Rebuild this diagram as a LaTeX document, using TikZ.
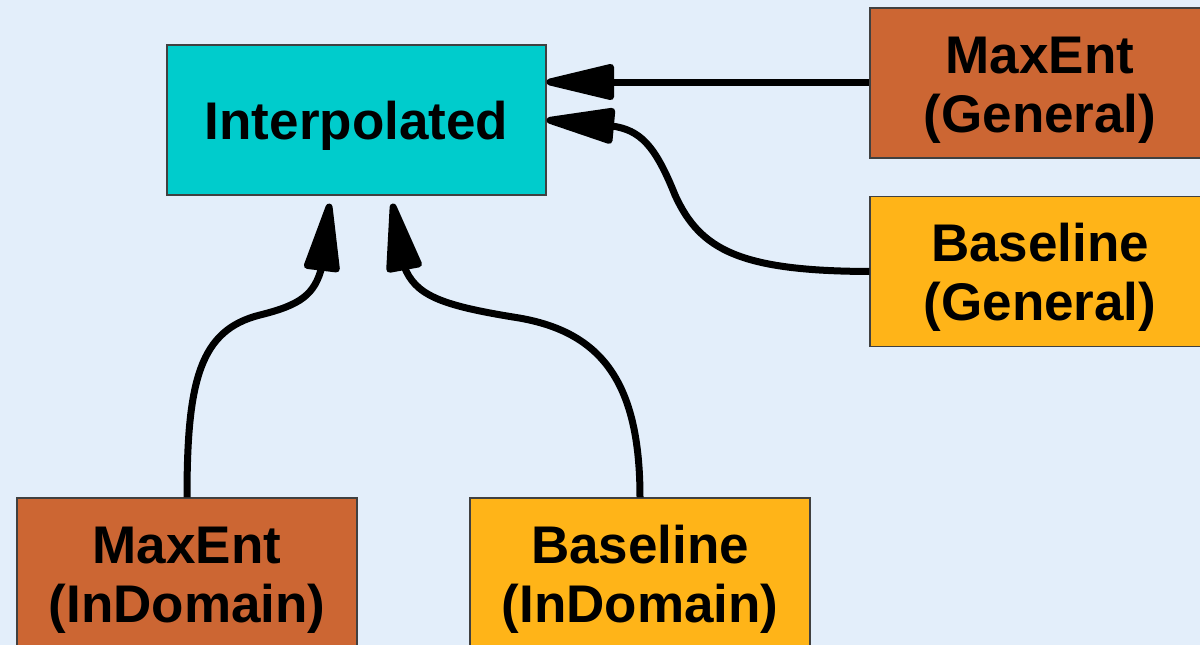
\documentclass[tikz,border=0pt]{standalone}
\usepackage{fontspec}
\setmainfont{Liberation Sans}
\usetikzlibrary{arrows.meta}
\definecolor{bgblue}{RGB}{227,238,250}
\definecolor{interpcyan}{RGB}{0,204,204}
\definecolor{maxentbrown}{RGB}{204,102,51}
\definecolor{baseamber}{RGB}{255,180,24}
\begin{document}
\begin{tikzpicture}[x=1pt,y=-1pt,
  box/.style={draw=black!75,line width=1.2pt,minimum width=340pt,minimum height=150pt,
    inner sep=0pt,align=center,font=\fontsize{53}{59}\selectfont\bfseries},
  onebox/.style={box,text height=50pt},
  twobox/.style={box,text height=109.5pt},
  link/.style={line width=7pt,-{Triangle[length=80pt,width=36pt,round]}}]
  \useasboundingbox (0,0) rectangle (1200,645);
  \clip (0,0) rectangle (1200,645);
  \fill[bgblue] (0,0) rectangle (1200,645);

  % models
  \node[onebox,fill=interpcyan,minimum width=379pt] (interp) at (356.5,120) {Interpolated};
  \node[twobox,fill=maxentbrown] (mg) at (1040,83) {MaxEnt\\(General)};
  \node[twobox,fill=baseamber] (bg) at (1040,271.5) {Baseline\\(General)};
  \node[twobox,fill=maxentbrown] (mi) at (187,573) {MaxEnt\\(InDomain)};
  \node[twobox,fill=baseamber] (bi) at (640,573) {Baseline\\(InDomain)};

  % connectors into the interpolated model
  \draw[link] ([yshift=1pt]mg.west) -- ([yshift=38pt]interp.east);
  \draw[link] (bg.west) .. controls (740,271) and (700,250) .. (675,195)
    .. controls (655,145) and (640,130) .. (612,126) -- (interp.east);
  \draw[link] (mi.north) .. controls (187,380) and (200,330) .. (260,315)
    .. controls (300,305) and (315,295) .. (322,266) -- ([xshift=-27pt,yshift=-8pt]interp.south);
  \draw[link] (bi.north) .. controls (640,380) and (600,330) .. (513,317)
    .. controls (440,305) and (415,295) .. (404,266) -- ([xshift=36pt,yshift=-8pt]interp.south);
\end{tikzpicture}
\end{document}
